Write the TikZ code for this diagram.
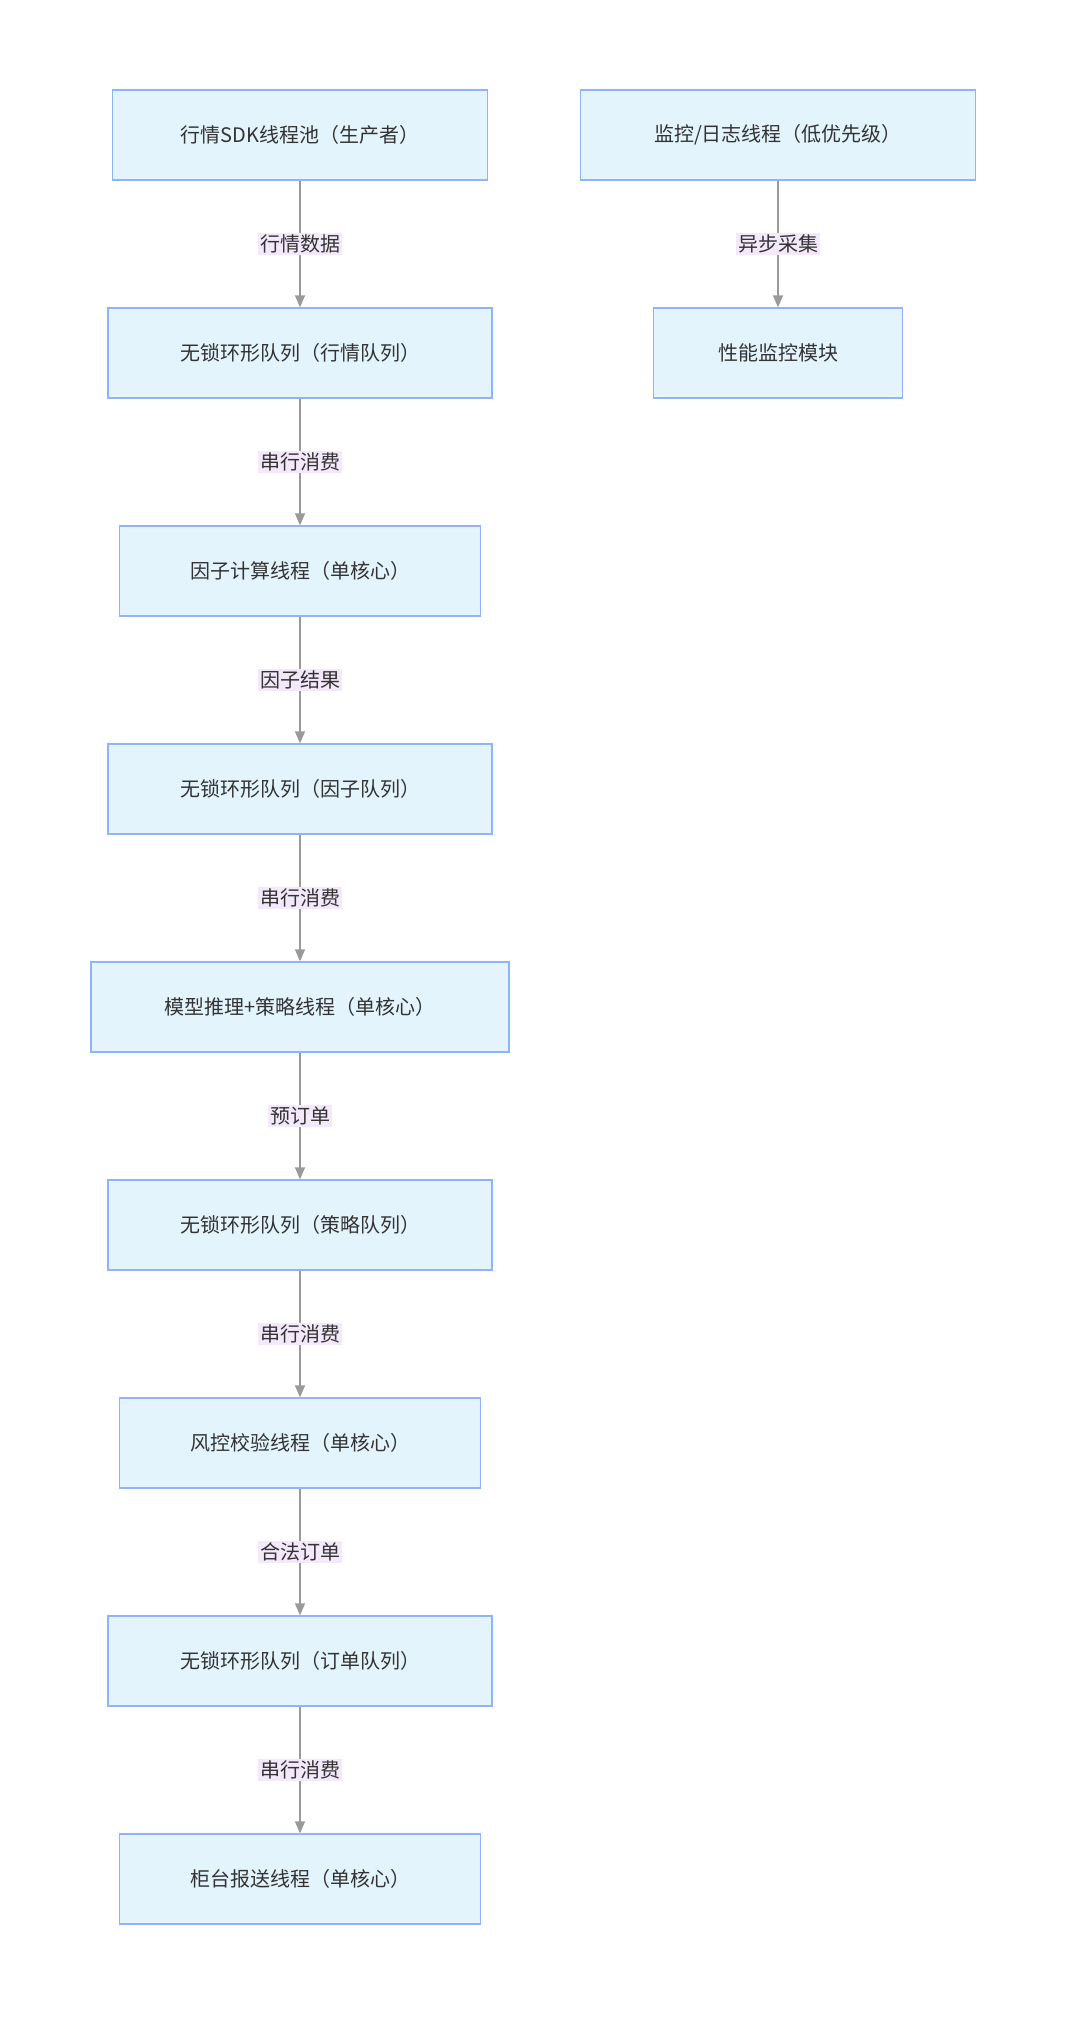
\documentclass[tikz,border=0pt]{standalone}
\usepackage{fontspec}
\setmainfont{Noto Sans CJK SC}
\usetikzlibrary{arrows.meta}
\definecolor{boxfill}{HTML}{E3F4FD}
\definecolor{boxline}{HTML}{8FB4F7}
\definecolor{lblfill}{HTML}{F3E9FB}
\definecolor{arr}{HTML}{9A9A9A}
\definecolor{txt}{HTML}{333333}
\tikzset{
 box/.style={draw=boxline,fill=boxfill,line width=1.3pt,minimum height=90pt,inner sep=0pt,text=txt,font=\fontsize{20}{24}\selectfont},
 lbl/.style={fill=lblfill,inner sep=2pt,text=txt,font=\fontsize{20}{24}\selectfont},
 conn/.style={draw=arr,line width=1.3pt,-{Triangle[length=12pt,width=10pt,fill=arr]}}
}
\begin{document}
\begin{tikzpicture}[x=1pt,y=-1pt]
\useasboundingbox (0,0) rectangle (1080,2042);
\node[box,minimum width=375pt] (a) at (300,135) {行情SDK线程池（生产者）};
\node[box,minimum width=395pt] (m) at (778,135) {监控/日志线程（低优先级）};
\node[box,minimum width=249pt] (p) at (778,353) {性能监控模块};
\node[box,minimum width=384pt] (q1) at (300,353) {无锁环形队列（行情队列）};
\node[box,minimum width=361pt] (f) at (300,571) {因子计算线程（单核心）};
\node[box,minimum width=384pt] (q2) at (300,789) {无锁环形队列（因子队列）};
\node[box,minimum width=418pt] (s) at (300,1007) {模型推理+策略线程（单核心）};
\node[box,minimum width=384pt] (q3) at (300,1225) {无锁环形队列（策略队列）};
\node[box,minimum width=361pt] (r) at (300,1443) {风控校验线程（单核心）};
\node[box,minimum width=384pt] (q4) at (300,1661) {无锁环形队列（订单队列）};
\node[box,minimum width=361pt] (o) at (300,1879) {柜台报送线程（单核心）};
\draw[conn] (a) -- node[lbl]{行情数据} (q1);
\draw[conn] (m) -- node[lbl]{异步采集} (p);
\draw[conn] (q1) -- node[lbl]{串行消费} (f);
\draw[conn] (f) -- node[lbl]{因子结果} (q2);
\draw[conn] (q2) -- node[lbl]{串行消费} (s);
\draw[conn] (s) -- node[lbl]{预订单} (q3);
\draw[conn] (q3) -- node[lbl]{串行消费} (r);
\draw[conn] (r) -- node[lbl]{合法订单} (q4);
\draw[conn] (q4) -- node[lbl]{串行消费} (o);
\end{tikzpicture}
\end{document}
